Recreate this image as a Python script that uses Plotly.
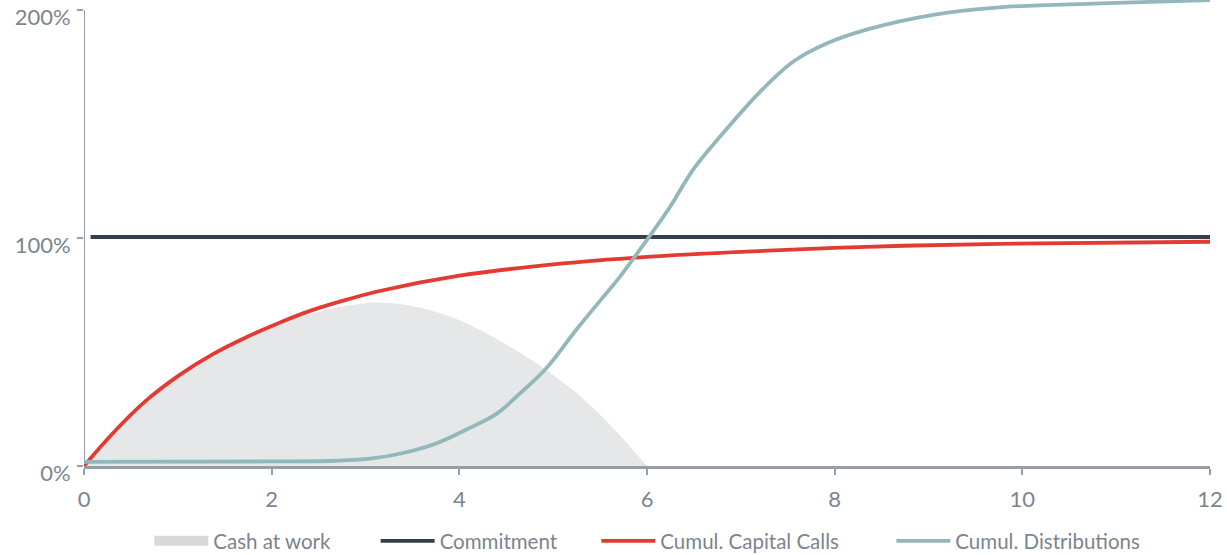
import plotly.graph_objects as go

# Cash at work (grey area)
cash_x = [0, 0.31, 0.67, 1.02, 1.37, 1.73, 2.09, 2.44, 2.8, 3.15, 3.58, 4.0, 4.47, 4.93, 5.36, 5.71, 6.0]
cash_y = [0, 14.5, 29, 40, 49, 56.5, 62.5, 67, 70.3, 71.8, 69.6, 64, 54, 42, 28, 13.5, 0]

# Commitment
commit_x = [0.07, 12]
commit_y = [100.5, 100.5]

# Cumulative capital calls
calls_x = [0, 0.31, 0.67, 1.02, 1.37, 1.73, 2.09, 2.44, 2.8, 3.15, 4.0, 5.0, 6.0, 7.0, 8.34, 9.76, 12]
calls_y = [0, 14.5, 29, 40, 49, 56.5, 63, 68.5, 73, 76.8, 83.5, 88.5, 91.8, 94, 96.2, 97.5, 98.4]

# Cumulative distributions
dist_x = [0, 1.0, 2.0, 2.7, 3.05, 3.4, 3.76, 4.11, 4.4, 4.65, 4.93, 5.25, 5.53, 5.71, 6.03, 6.25, 6.49,
          6.85, 7.2, 7.56, 7.92, 8.34, 9.05, 9.76, 10.83, 12]
dist_y = [1.8, 1.9, 2.0, 2.3, 3.2, 5.7, 10, 16.7, 23, 32, 43, 60, 74, 83, 101, 114, 130,
          148, 164, 177.5, 185.5, 191.5, 198, 201.3, 203, 204.5]

x_ticks = [0, 2, 4, 6, 8, 10, 12]
y_ticks = [0, 100, 200]
y_labels = ["0%", "100%", "200%"]

FONT = "Lato"
TXT = "#7b8590"
AXIS = "#969da5"

fig = go.Figure()
fig.add_trace(go.Scatter(x=cash_x, y=cash_y, mode="lines", fill="tozeroy",
                         fillcolor="#e6e7e9", line=dict(color="rgba(0,0,0,0)", width=0),
                         line_shape="spline", name="Cash at work", showlegend=False))
# legend entry for the area (solid swatch)
fig.add_trace(go.Scatter(x=[None], y=[None], mode="lines", name="Cash at work",
                         line=dict(color="#d9d9d9", width=12), legend="legend"))
fig.add_trace(go.Scatter(x=commit_x, y=commit_y, mode="lines",
                         line=dict(color="#36404a", width=3.8), name="Commitment", legend="legend2"))
fig.add_trace(go.Scatter(x=calls_x, y=calls_y, mode="lines", line_shape="spline",
                         line=dict(color="#e33b33", width=3.8), name="Cumul. Capital Calls",
                         legend="legend3"))
fig.add_trace(go.Scatter(x=dist_x, y=dist_y, mode="lines", line_shape="spline",
                         line=dict(color="#93b8bb", width=3.8), name="Cumul. Distributions",
                         legend="legend4"))

# y axis line only up to 200%
fig.add_shape(type="line", x0=0, x1=0, y0=0, y1=200, xref="x", yref="y",
              line=dict(color=AXIS, width=2), layer="below")

def leg(xpos):
    return dict(orientation="h", x=xpos, xanchor="left", y=-0.161, yanchor="middle",
                font=dict(size=20.5, color=TXT, family=FONT), itemwidth=54,
                bgcolor="rgba(0,0,0,0)")

fig.update_layout(
    width=1227, height=555,
    margin=dict(l=84, r=17, t=0, b=89, autoexpand=False),
    paper_bgcolor="white", plot_bgcolor="white",
    font=dict(family=FONT, color=TXT, size=20),
    showlegend=True,
    legend=leg(0.058), legend2=leg(0.259), legend3=leg(0.455), legend4=leg(0.717),
    xaxis=dict(range=[0, 12], tickvals=x_ticks, ticks="outside", ticklen=6, tickwidth=1.5,
               tickcolor=AXIS, showline=True, linecolor=AXIS, linewidth=2.5,
               showgrid=False, zeroline=False, tickfont=dict(size=22, color=TXT),
               ticklabelstandoff=6, automargin=False),
    yaxis=dict(range=[0, 204.5], tickvals=y_ticks, ticktext=y_labels, ticks="outside",
               ticklen=6, tickwidth=1.5, tickcolor=AXIS, showline=False,
               showgrid=False, zeroline=False, tickfont=dict(size=22, color=TXT),
               ticklabelshift=7,
               ticklabeloverflow="allow", ticklabelstandoff=2, automargin=False),
)

fig.write_html("out.html", config={"displayModeBar": False},
               post_script="document.body.style.margin='0';")
